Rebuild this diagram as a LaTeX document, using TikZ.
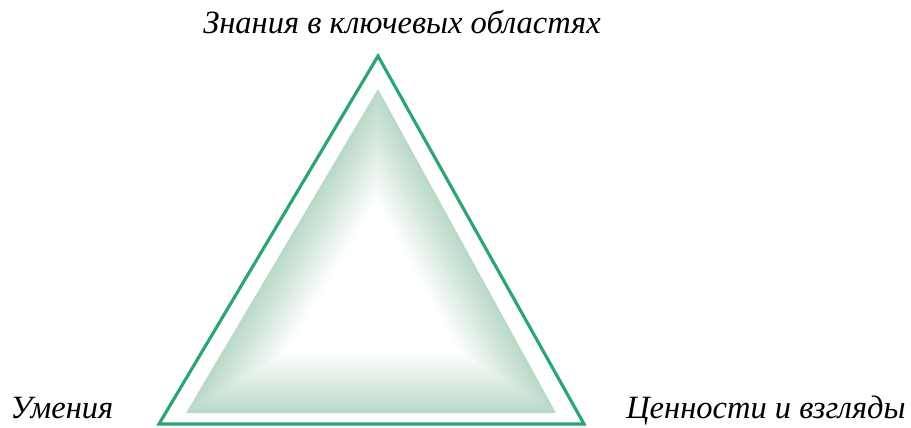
\documentclass[tikz,border=0pt]{standalone}
\usepackage{fontspec}
\setmainfont{Liberation Serif}
\usepackage{tikz}
\usetikzlibrary{positioning,calc}
\definecolor{trigreen}{HTML}{2BA571}
\definecolor{trishade}{HTML}{A9CFBA}

\begin{document}
\begin{tikzpicture}[x=0.02cm, y=-0.02cm, font=\itshape\fontsize{18.5}{20}\selectfont]
  \useasboundingbox (0,0) rectangle (911,428);

  \coordinate (top) at (378,56);
  \coordinate (left) at (159,424);
  \coordinate (right) at (584,424);
  \coordinate (itop) at (378,89);
  \coordinate (ileft) at (186,413);
  \coordinate (iright) at (556,413);
  \coordinate (mid) at (375,300);

  % inner triangle, fading to white towards the middle
  \foreach \k in {0,...,24} {
    \pgfmathsetmacro{\fac}{1-\k*0.022}
    \pgfmathtruncatemacro{\amt}{80-\k*80/24}
    \fill[trishade!\amt!white] ($(mid)!\fac!(itop)$) -- ($(mid)!\fac!(ileft)$) -- ($(mid)!\fac!(iright)$) -- cycle;
  }

  \draw[trigreen, line width=1.8pt] (top) -- (left) -- (right) -- cycle;

  \node[anchor=base] (knowledge) at (402,34) {Знания в ключевых областях};
  \node[anchor=base west, inner sep=0pt] (skills) at (10,418) {Умения};
  \node[anchor=base east, inner sep=0pt] (values) at (906,418) {Ценности и взгляды};
\end{tikzpicture}
\end{document}
